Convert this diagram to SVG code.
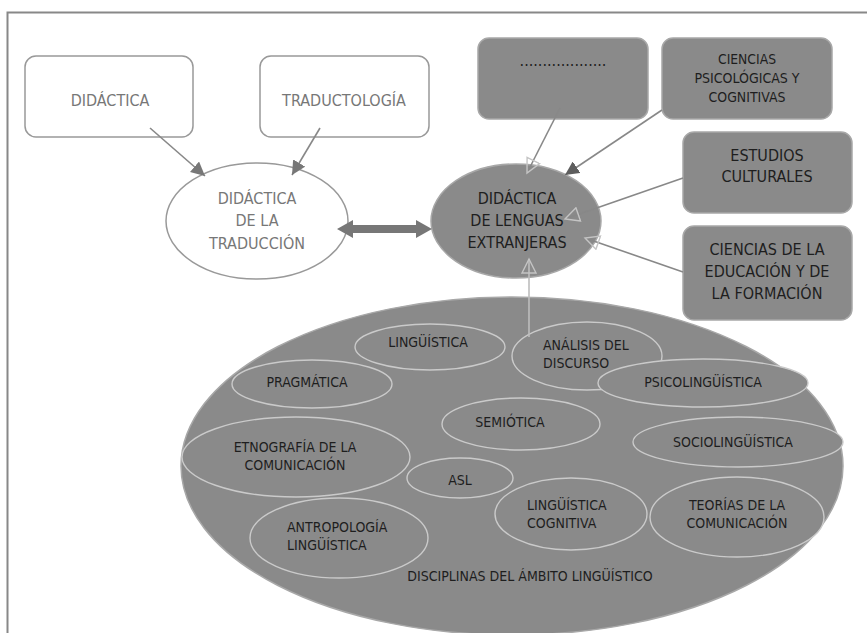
<svg xmlns="http://www.w3.org/2000/svg" width="867" height="633" viewBox="0 0 867 633">
<style>
text{font-family:"Liberation Sans Narrow","DejaVu Sans Condensed","Liberation Sans",sans-serif;text-anchor:middle}
.wbox{fill:#fff;stroke:#999;stroke-width:1.5}
.gbox{fill:#8a8a8a;stroke:#a8a8a8;stroke-width:1.5}
.wt{fill:#777;font-size:16px}
.gt{fill:#1e1e1e;font-size:16px}
.st{fill:#1e1e1e;font-size:14px}
.inner{fill:#8a8a8a;stroke:#cacaca;stroke-width:1.4}
.it{fill:#1e1e1e;font-size:14px}
.ln{stroke:#888;stroke-width:1.6;fill:none}
</style>
<defs>
<marker id="fa" markerUnits="userSpaceOnUse" markerWidth="16" markerHeight="14" refX="14" refY="7" orient="auto"><path d="M0,0 L14,7 L0,14 Z" fill="#777"/></marker>
<marker id="fd" markerUnits="userSpaceOnUse" markerWidth="16" markerHeight="14" refX="14" refY="7" orient="auto"><path d="M0,0 L14,7 L0,14 Z" fill="#5e5e5e"/></marker>
<marker id="ha" markerUnits="userSpaceOnUse" markerWidth="18" markerHeight="16" refX="15" refY="8" orient="auto"><path d="M1,1 L15,8 L1,15 Z" fill="none" stroke="#c4c4c4" stroke-width="1.4"/></marker>
</defs>
<path d="M7.5,633 V12.5 H867" fill="none" stroke="#888" stroke-width="2"/>

<g id="big">
<ellipse cx="512" cy="466" rx="331" ry="169" fill="#8a8a8a" stroke="#a8a8a8" stroke-width="1.5"/>
</g>
<g id="linguistica"><ellipse class="inner" cx="430" cy="347" rx="75" ry="23"/><text class="it" x="428" y="347">LINGÜÍSTICA</text></g>
<g id="analisis"><ellipse class="inner" cx="587" cy="356" rx="75" ry="34"/><text class="it" x="543" y="350" style="text-anchor:start">ANÁLISIS DEL</text><text class="it" x="543" y="368" style="text-anchor:start">DISCURSO</text></g>
<g id="pragmatica"><ellipse class="inner" cx="312" cy="384" rx="80" ry="24"/><text class="it" x="307" y="387">PRAGMÁTICA</text></g>
<g id="psico"><ellipse class="inner" cx="703" cy="383" rx="105" ry="24"/><text class="it" x="703" y="387">PSICOLINGÜÍSTICA</text></g>
<g id="semiotica"><ellipse class="inner" cx="521" cy="424" rx="79" ry="26"/><text class="it" x="510" y="427">SEMIÓTICA</text></g>
<g id="etnografia"><ellipse class="inner" cx="296" cy="457" rx="114" ry="40"/><text class="it" x="295" y="452">ETNOGRAFÍA DE LA</text><text class="it" x="295" y="470">COMUNICACIÓN</text></g>
<g id="socio"><ellipse class="inner" cx="738" cy="442" rx="105" ry="25"/><text class="it" x="733" y="447">SOCIOLINGÜÍSTICA</text></g>
<g id="asl"><ellipse class="inner" cx="460" cy="478" rx="53" ry="20"/><text class="it" x="460" y="485">ASL</text></g>
<g id="cognitiva"><ellipse class="inner" cx="571" cy="514" rx="76" ry="36"/><text class="it" x="527" y="510" style="text-anchor:start">LINGÜÍSTICA</text><text class="it" x="527" y="528" style="text-anchor:start">COGNITIVA</text></g>
<g id="teorias"><ellipse class="inner" cx="737" cy="517" rx="87" ry="40"/><text class="it" x="737" y="510">TEORÍAS DE LA</text><text class="it" x="737" y="528">COMUNICACIÓN</text></g>
<g id="antropologia"><ellipse class="inner" cx="339" cy="538" rx="89" ry="40"/><text class="it" x="287" y="532" style="text-anchor:start">ANTROPOLOGÍA</text><text class="it" x="287" y="550" style="text-anchor:start">LINGÜÍSTICA</text></g>
<text class="it" x="530" y="581">DISCIPLINAS DEL ÁMBITO LINGÜÍSTICO</text>

<g id="didactica"><rect class="wbox" x="25" y="56" width="168" height="81" rx="11"/><text class="wt" x="110" y="106">DIDÁCTICA</text></g>
<g id="traductologia"><rect class="wbox" x="260" y="56" width="169" height="81" rx="11"/><text class="wt" x="344" y="106">TRADUCTOLOGÍA</text></g>
<g id="dtraduccion"><ellipse cx="257" cy="221" rx="91" ry="58" fill="#fff" stroke="#999" stroke-width="1.5"/><text class="wt" x="257" y="204">DIDÁCTICA</text><text class="wt" x="257" y="226">DE LA</text><text class="wt" x="257" y="249">TRADUCCIÓN</text></g>
<g id="dlenguas"><ellipse cx="516" cy="221" rx="85" ry="57" fill="#8a8a8a" stroke="#a8a8a8" stroke-width="1.5"/><text class="gt" x="517" y="204">DIDÁCTICA</text><text class="gt" x="517" y="226">DE LENGUAS</text><text class="gt" x="517" y="248">EXTRANJERAS</text></g>
<g id="dots"><rect class="gbox" x="478" y="38" width="170" height="81" rx="11"/><text class="gt" x="563" y="66">...................</text></g>
<g id="psicologicas"><rect class="gbox" x="662" y="38" width="170" height="81" rx="11"/><text class="st" x="747" y="64" textLength="58" lengthAdjust="spacingAndGlyphs">CIENCIAS</text><text class="st" x="747" y="83" textLength="105" lengthAdjust="spacingAndGlyphs">PSICOLÓGICAS Y</text><text class="st" x="747" y="102" textLength="77" lengthAdjust="spacingAndGlyphs">COGNITIVAS</text></g>
<g id="culturales"><rect class="gbox" x="683" y="132" width="169" height="81" rx="11"/><text class="gt" x="767" y="161">ESTUDIOS</text><text class="gt" x="767" y="182">CULTURALES</text></g>
<g id="educacion"><rect class="gbox" x="683" y="226" width="169" height="94" rx="11"/><text class="gt" x="767" y="255">CIENCIAS DE LA</text><text class="gt" x="767" y="277">EDUCACIÓN Y DE</text><text class="gt" x="767" y="299">LA FORMACIÓN</text></g>

<g id="connectors">
<line class="ln" x1="150" y1="128" x2="205" y2="176" marker-end="url(#fa)"/>
<line class="ln" x1="320" y1="128" x2="292" y2="175" marker-end="url(#fa)"/>
<polygon points="337,229 353,220 353,225 416,225 416,220 432,229 416,238 416,233 353,233 353,238" fill="#777"/>
<line class="ln" x1="560" y1="108" x2="527" y2="173" marker-end="url(#ha)"/>
<line class="ln" x1="662" y1="110" x2="565" y2="175" marker-end="url(#fd)"/>
<line class="ln" x1="683" y1="178" x2="565" y2="219" marker-end="url(#ha)"/>
<line class="ln" x1="683" y1="272" x2="585" y2="238" marker-end="url(#ha)"/>
<line x1="529" y1="337" x2="529" y2="259" stroke="#bdbdbd" stroke-width="1.6" marker-end="url(#ha)"/>
</g>
</svg>
